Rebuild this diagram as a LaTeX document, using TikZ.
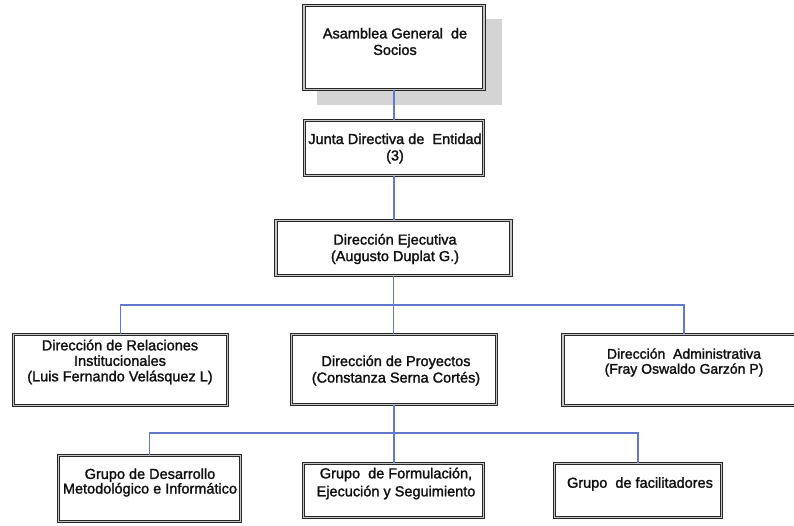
\documentclass[tikz,border=0pt]{standalone}
\usepackage{fontspec}
\setmainfont{Liberation Sans}[FakeBold=1.6]
\definecolor{linkblue}{RGB}{98,120,204}
\definecolor{ink}{RGB}{15,15,15}
\definecolor{shadowgray}{RGB}{212,212,212}
\tikzset{
  unitbox/.style={draw=black!85, line width=1pt, double=gray!45,
    double distance=1.4pt, fill=white, inner sep=0pt},
  link/.style={draw=linkblue, line width=1.7pt},
  caption/.style={text=ink, align=center, inner sep=0pt,
    font=\fontsize{14.5}{16.5}\selectfont},
}
\begin{document}
\begin{tikzpicture}[x=1pt, y=-1pt]
\clip (0,0) rectangle (794,525);
\fill[white] (0,0) rectangle (794,525);

% drop shadow of the top box
\fill[shadowgray] (317,19) rectangle (502,105);

% boxes (path centres, the double border lies on the path)
\node[unitbox, minimum width=179.8pt, minimum height=83.8pt] (b1) at (394,47.5) {};
\node[unitbox, minimum width=178.8pt, minimum height=54.8pt] (b2) at (394,148) {};
\node[unitbox, minimum width=234.8pt, minimum height=54.8pt] (b3) at (393.5,248) {};
\node[unitbox, minimum width=213.8pt, minimum height=70.8pt] (b4) at (120.5,370) {};
\node[unitbox, minimum width=204.8pt, minimum height=69.8pt] (b5) at (394,369.5) {};
\node[unitbox, minimum width=241.8pt, minimum height=70.8pt] (b6) at (684,370) {};
\node[unitbox, minimum width=181.8pt, minimum height=65.8pt] (b7) at (149.5,488.5) {};
\node[unitbox, minimum width=179.8pt, minimum height=53.8pt] (b8) at (393.5,490.5) {};
\node[unitbox, minimum width=166.8pt, minimum height=53.8pt] (b9) at (638,490.5) {};

% bus junctions
\coordinate (bus1) at (394,305);
\coordinate (bus2) at (394,433);

% connectors
\draw[link] (b1.south) -- (b1.south |- b2.north);
\draw[link] (b2.south) -- (b2.south |- b3.north);
\draw[link, line width=1.1pt] (b3.south) -- (b3.south |- b5.north);
\draw[link] (b4.north) |- (bus1) -| (b6.north);
\draw[link] (b5.south) -- (b5.south |- b8.north);
\draw[link] (b7.north) |- (bus2) -| (b9.north);

% box texts
\node[caption] (t1) at (395,41.5) {Asamblea General~ de\\Socios};
\node[caption] (t2) at (395,148.5) {Junta Directiva de~ Entidad\\(3)};
\node[caption] (t3) at (395,249) {Dirección Ejecutiva\\(Augusto Duplat G.)};
\node[caption, font=\fontsize{14.5}{15.5}\selectfont] (t4) at (120,362)
  {Dirección de Relaciones\\Institucionales\\(Luis Fernando Velásquez L)};
\node[caption] (t5) at (396,370.5) {Dirección de Proyectos\\(Constanza Serna Cortés)};
\node[caption, font=\fontsize{14}{15}\selectfont] (t6) at (684,362.5)
  {Dirección~ Administrativa\\(Fray Oswaldo Garzón P)};
\node[caption, font=\fontsize{14.5}{12.5}\selectfont] (t7) at (150,482.5)
  {Grupo de Desarrollo\\Metodológico e Informático};
\node[caption, font=\fontsize{14.5}{18}\selectfont] (t8) at (396,483.5)
  {Grupo~ de Formulación,\\Ejecución y Seguimiento};
\node[caption] (t9) at (640,484) {Grupo~ de facilitadores};
\end{tikzpicture}
\end{document}
